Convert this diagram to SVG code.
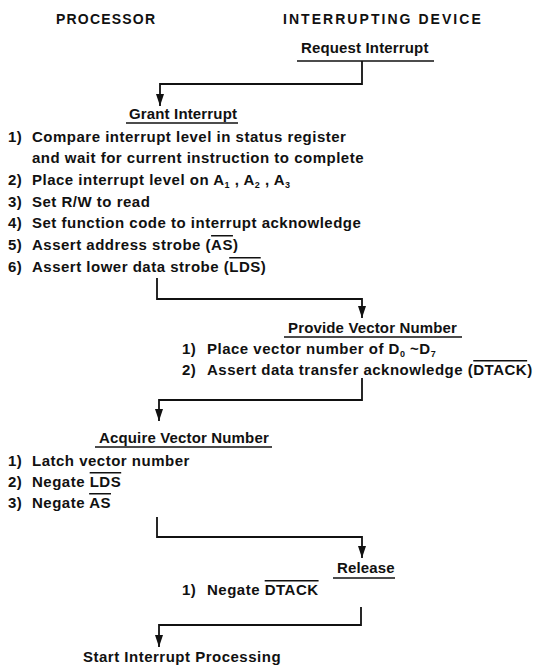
<svg xmlns="http://www.w3.org/2000/svg" width="547" height="667" viewBox="0 0 547 667">
<style>
text{font-family:"Liberation Sans",Arial,sans-serif;font-weight:bold;font-size:15px;fill:#111;letter-spacing:0.5px}
.hd{font-size:14px;letter-spacing:1.2px}
.ttl{letter-spacing:0.15px}
.ul{stroke:#111;stroke-width:1.5}
.conn{fill:none;stroke:#111;stroke-width:1.8}
.ov{text-decoration:overline}
.sub{font-size:9px}
</style>
<defs>
<marker id="ah" viewBox="0 0 12 8" refX="12" refY="4" markerWidth="12" markerHeight="8" markerUnits="userSpaceOnUse" orient="auto">
<path d="M0,0 L12,4 L0,8 z" fill="#111"/>
</marker>
</defs>
<rect width="547" height="667" fill="#fff"/>
<g id="lanes">
<text class="hd" x="56" y="24">PROCESSOR</text>
<text class="hd" x="283" y="24" textLength="199" lengthAdjust="spacing">INTERRUPTING DEVICE</text>
</g>
<g id="connectors">
<path class="conn" d="M362,61 V84 H160 V106" marker-end="url(#ah)"/>
<path class="conn" d="M157,278 V299 H362 V318" marker-end="url(#ah)"/>
<path class="conn" d="M362,378 V400 H159 V421" marker-end="url(#ah)"/>
<path class="conn" d="M157,517 V537 H362 V558" marker-end="url(#ah)"/>
<path class="conn" d="M361,607 V625 H159 V647" marker-end="url(#ah)"/>
</g>
<g id="n-request">
<text class="ttl" x="301" y="53">Request Interrupt</text>
<line class="ul" x1="297" y1="61" x2="434" y2="61"/>
</g>
<g id="n-grant">
<text class="ttl" x="129" y="119">Grant Interrupt</text>
<line class="ul" x1="126" y1="123" x2="238" y2="123"/>
<text x="8" y="142">1)</text><text x="32" y="142">Compare interrupt level in status register</text>
<text x="32" y="163">and wait for current instruction to complete</text>
<text x="8" y="185">2)</text><text x="32" y="185">Place interrupt level on A<tspan class="sub" dy="3">1</tspan><tspan dy="-3"> , A</tspan><tspan class="sub" dy="3">2</tspan><tspan dy="-3"> , A</tspan><tspan class="sub" dy="3">3</tspan></text>
<text x="8" y="207">3)</text><text x="32" y="207">Set R/W to read</text>
<text x="8" y="228">4)</text><text x="32" y="228">Set function code to interrupt acknowledge</text>
<text x="8" y="250">5)</text><text x="32" y="250">Assert address strobe (<tspan class="ov">AS</tspan>)</text>
<text x="8" y="272">6)</text><text x="32" y="272">Assert lower data strobe (<tspan class="ov">LDS</tspan>)</text>
</g>
<g id="n-provide">
<text class="ttl" x="288" y="333">Provide Vector Number</text>
<line class="ul" x1="284" y1="337" x2="462" y2="337"/>
<text x="182" y="354">1)</text><text x="207" y="354">Place vector number of D<tspan class="sub" dy="3">0</tspan><tspan dy="-3"> ~D</tspan><tspan class="sub" dy="3">7</tspan></text>
<text x="182" y="375">2)</text><text x="207" y="375">Assert data transfer acknowledge (<tspan class="ov">DTACK</tspan>)</text>
</g>
<g id="n-acquire">
<text class="ttl" x="99" y="443">Acquire Vector Number</text>
<line class="ul" x1="95" y1="447" x2="272" y2="447"/>
<text x="8" y="466">1)</text><text x="32" y="466">Latch vector number</text>
<text x="8" y="487">2)</text><text x="32" y="487">Negate <tspan class="ov">LDS</tspan></text>
<text x="8" y="508">3)</text><text x="32" y="508">Negate <tspan class="ov">AS</tspan></text>
</g>
<g id="n-release">
<text class="ttl" x="337" y="573">Release</text>
<line class="ul" x1="333" y1="578" x2="395" y2="578"/>
<text x="182" y="595">1)</text><text x="207" y="595">Negate <tspan class="ov">DTACK</tspan></text>
</g>
<g id="n-start">
<text x="83" y="662">Start Interrupt Processing</text>
</g>
</svg>
